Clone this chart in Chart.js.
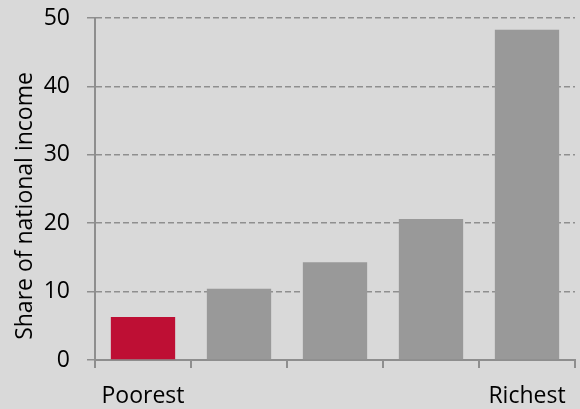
<!DOCTYPE html>
<html>
<head>
<meta charset="utf-8">
<script src="https://cdn.jsdelivr.net/npm/chart.js@4.4.0/dist/chart.umd.min.js"></script>
<style>
  html, body { margin: 0; padding: 0; background: #d9d9d9; }
  #wrap { width: 580px; height: 409px; position: relative; }
</style>
</head>
<body>
<div id="wrap"><canvas id="chart"></canvas></div>
<script>
// income shares by quintile
const categories = ['Poorest', '', '', '', 'Richest'];
const shares = [6.3, 10.4, 14.3, 20.6, 48.3];
const barColors = ['#be0f34', '#999999', '#999999', '#999999', '#999999'];
const yTicks = [0, 10, 20, 30, 40, 50];
const yTitle = 'Share of national income';

const axisGray = '#8e8e8e';
const gridGray = '#8f8f8f';
const font = { family: '"Open Sans", sans-serif', size: 23 };

// axis title sits a bit below the middle of the axis in the original
const yTitlePlugin = {
  id: 'yTitle',
  afterDraw(chart) {
    const c = chart.ctx;
    const area = chart.chartArea;
    c.save();
    c.translate(25, area.bottom - 154);
    c.rotate(-Math.PI / 2);
    c.font = font.size + 'px ' + font.family;
    c.fillStyle = '#000';
    c.textAlign = 'center';
    c.textBaseline = 'middle';
    c.fillText(yTitle, 0, 0);
    c.restore();
  }
};

const ctx = document.getElementById('chart');
new Chart(ctx, {
  type: 'bar',
  data: {
    labels: categories,
    datasets: [{
      data: shares,
      backgroundColor: barColors,
      borderWidth: 0,
      categoryPercentage: 1,
      barPercentage: 0.67
    }]
  },
  plugins: [yTitlePlugin],
  options: {
    responsive: true,
    maintainAspectRatio: false,
    animation: false,
    layout: { padding: { top: 18, right: 5, left: 0, bottom: 0 } },
    plugins: {
      legend: { display: false },
      tooltip: { enabled: false }
    },
    scales: {
      x: {
        offset: true,
        afterFit: (s) => { s.height = 49; s.paddingLeft = 0; s.paddingRight = 0; },
        grid: {
          offset: true,
          drawOnChartArea: false,
          drawTicks: true,
          tickLength: 8,
          color: axisGray,
          lineWidth: 2
        },
        border: { display: true, color: axisGray, width: 2 },
        ticks: {
          color: '#000',
          font: font,
          padding: 15,
          maxRotation: 0,
          autoSkip: false
        }
      },
      y: {
        min: 0,
        max: 50,
        afterFit: (s) => { s.width = 95; s.paddingTop = 0; s.paddingBottom = 0; },
        afterBuildTicks: (s) => { s.ticks = yTicks.map(v => ({ value: v })); },
        grid: {
          color: gridGray,
          lineWidth: 1.5,
          tickLength: 8,
          tickBorderDash: []
        },
        border: { display: true, color: axisGray, width: 2, dash: [6, 3] },
        ticks: {
          color: '#000',
          font: font,
          padding: 17
        }
      }
    }
  }
});
</script>
</body>
</html>
